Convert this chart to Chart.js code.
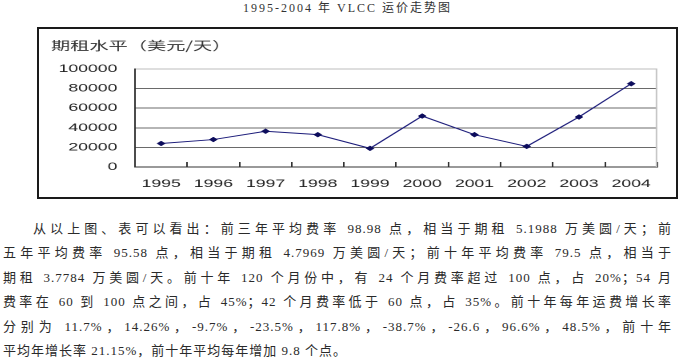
<!DOCTYPE html>
<html>
<head>
<meta charset="utf-8">
<script src="https://cdn.jsdelivr.net/npm/chart.js@4"></script>
<style>
  html, body { margin:0; padding:0; background:#fff; width:685px; height:360px; overflow:hidden; position:relative; }
  #pageTitle { position:absolute; left:243px; top:-2px; font:12px "Liberation Serif","Noto Sans CJK SC",serif; letter-spacing:2px; color:#333; white-space:nowrap; }
  #frame { position:absolute; left:37px; top:27px; width:637px; height:168px; border:2px solid #1a1a1a; }
  #stretch { width:398px; height:168px; transform:scaleX(1.6); transform-origin:0 0; }
  #text { position:absolute; left:3px; top:217px; width:669px; font:13px "Liberation Serif","Noto Sans CJK SC",serif; color:#2a2a2a; letter-spacing:1px; }
  #text div { height:24.4px; line-height:24.4px; text-align:justify; text-align-last:justify; text-justify:inter-character; }
  #text div.first { padding-left:30px; }
  #text div.last { text-align-last:left; }
</style>
</head>
<body>
<div id="pageTitle">1995-2004 年 VLCC 运价走势图</div>
<div id="frame"><div id="stretch"><canvas id="vlccChart"></canvas></div></div>
<div id="text">
  <div class="first">从以上图、表可以看出：前三年平均费率 98.98 点，相当于期租 5.1988 万美圆/天；前</div>
  <div>五年平均费率 95.58 点，相当于期租 4.7969 万美圆/天；前十年平均费率 79.5 点，相当于</div>
  <div>期租 3.7784 万美圆/天。前十年 120 个月份中，有 24 个月费率超过 100 点，占 20%；54 月</div>
  <div>费率在 60 到 100 点之间，占 45%；42 个月费率低于 60 点，占 35%。前十年每年运费增长率</div>
  <div>分别为 11.7%，14.26%，-9.7%，-23.5%，117.8%，-38.7%，-26.6，96.6%，48.5%，前十年</div>
  <div class="last">平均年增长率 21.15%，前十年平均每年增加 9.8 个点。</div>
</div>
<script>
// 年份与期租水平（美元/天）
var years = ['1995', '1996', '1997', '1998', '1999', '2000', '2001', '2002', '2003', '2004'];
var charterRates = [24000, 28000, 36500, 33000, 19000, 52000, 33000, 21000, 51000, 85000];
var yTickValues = [0, 20000, 40000, 60000, 80000, 100000];
var axisTitle = '期租水平（美元/天）';

// 绘图区右侧的浅灰边线
var plotEdge = {
  id: 'plotEdge',
  beforeDatasetsDraw: function(chart) {
    var ctx = chart.ctx, a = chart.chartArea;
    ctx.save();
    ctx.strokeStyle = '#c4c4c4';
    ctx.lineWidth = 1;
    ctx.beginPath();
    ctx.moveTo(a.right - 0.5, a.top);
    ctx.lineTo(a.right - 0.5, a.bottom);
    ctx.stroke();
    ctx.restore();
  }
};

var tickFont = { family: 'Liberation Sans', size: 11 };

new Chart(document.getElementById('vlccChart').getContext('2d'), {
  type: 'line',
  data: {
    labels: years,
    datasets: [{
      data: charterRates,
      borderColor: '#1c1c7a',
      borderWidth: 1,
      pointStyle: 'rectRot',
      pointRadius: 2.5,
      pointBackgroundColor: '#0c0c5c',
      pointBorderColor: '#0c0c5c',
      pointBorderWidth: 0.5,
      tension: 0,
      fill: false
    }]
  },
  options: {
    responsive: true,
    maintainAspectRatio: false,
    devicePixelRatio: 2,
    animation: false,
    layout: { padding: { left: 7.5, right: 5, top: 0, bottom: 0 } },
    plugins: {
      legend: { display: false },
      tooltip: { enabled: false },
      title: {
        display: true,
        text: axisTitle,
        align: 'start',
        color: '#333',
        font: { family: 'Noto Sans CJK SC', size: 12, weight: 'normal' },
        padding: { top: 9, bottom: 16.6 }
      }
    },
    scales: {
      x: {
        offset: true,
        grid: { drawOnChartArea: false, tickLength: -5, color: '#333', offset: true },
        border: { color: '#333' },
        ticks: { font: tickFont, color: '#222', padding: 15.4, maxRotation: 0, autoSkip: false },
        afterFit: function(scale) { scale.height = 30; }
      },
      y: {
        min: 0,
        max: 100000,
        afterBuildTicks: function(scale) {
          scale.ticks = yTickValues.map(function(v) { return { value: v }; });
        },
        grid: {
          drawTicks: false,
          color: function(c) { return c.tick && c.tick.value === 100000 ? '#bdbdbd' : '#6a6a6a'; }
        },
        border: { color: '#333' },
        ticks: {
          font: tickFont,
          color: '#222',
          padding: 11,
          callback: function(v) { return String(v); }
        },
        afterFit: function(scale) { scale.width = 52.5; }
      }
    }
  },
  plugins: [plotEdge]
});
</script>
</body>
</html>
